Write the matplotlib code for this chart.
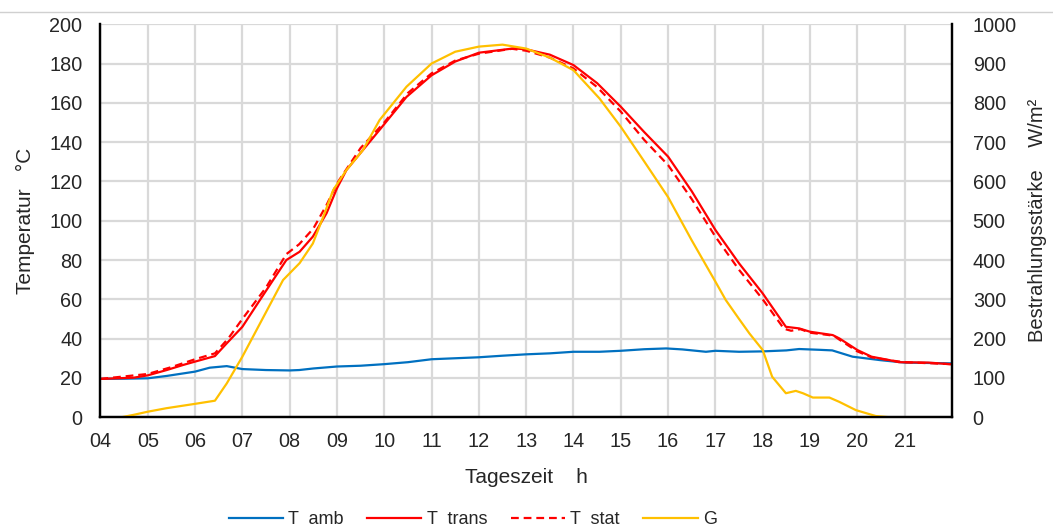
import matplotlib
matplotlib.use("Agg")
import matplotlib.pyplot as plt
from matplotlib.lines import Line2D

plt.rcParams['font.family'] = ['Liberation Sans', 'DejaVu Sans']

# ---- data (hours of day) ----
t_amb_h = [4.0, 4.5, 5.0, 5.4, 6.0, 6.31, 6.67, 7.0, 7.5, 8.0, 8.2, 8.5, 9.0, 9.5, 10.0, 10.5,
           11.0, 11.5, 12.0, 12.5, 13.0, 13.5, 14.0, 14.55, 15.0, 15.5, 15.96, 16.3, 16.8, 17.0,
           17.5, 18.0, 18.5, 18.77, 19.2, 19.47, 19.9, 20.5, 21.0, 21.5, 22.0]
t_amb = [19.5, 19.6, 19.8, 21.0, 23.2, 25.2, 26.0, 24.5, 24.0, 23.8, 24.0, 24.8, 25.8, 26.2, 27.0, 28.0,
         29.5, 30.0, 30.5, 31.3, 32.0, 32.5, 33.3, 33.3, 33.8, 34.6, 35.0, 34.5, 33.3, 33.8,
         33.3, 33.5, 34.0, 34.7, 34.3, 34.0, 30.8, 29.0, 27.8, 27.6, 27.4]

t_trans_h = [4.0, 4.7, 5.0, 5.4, 5.75, 6.0, 6.42, 6.67, 7.0, 7.37, 7.93, 8.21, 8.49, 8.78, 9.0, 9.2,
             9.55, 9.9, 10.47, 11.0, 11.5, 12.0, 12.74, 13.0, 13.5, 14.0, 14.5, 15.0, 15.5, 16.0,
             16.5, 17.0, 17.5, 18.0, 18.49, 18.77, 19.0, 19.48, 19.62, 20.0, 20.3, 20.67, 20.88,
             21.5, 22.0]
t_trans = [19.5, 20.1, 21.3, 24.0, 26.6, 28.3, 31.1, 37.6, 46.0, 59.6, 80.0, 84.2, 91.9, 103.8, 116.5, 125.8,
           136.0, 146.2, 163.0, 174.0, 181.0, 185.5, 187.7, 187.2, 184.5, 179.2, 170.0, 158.0, 145.0, 132.6,
           115.0, 95.3, 78.3, 63.0, 46.0, 45.2, 43.5, 41.8, 40.1, 34.2, 30.8, 29.1, 28.0,
           27.8, 26.9]

t_stat_h = [4.0, 5.0, 5.5, 6.0, 6.42, 6.7, 7.0, 7.5, 7.93, 8.2, 8.5, 8.78, 9.0, 9.5, 10.0, 10.5,
            11.0, 11.5, 12.0, 12.7, 13.0, 13.5, 14.0, 14.5, 15.0, 15.5, 16.0, 16.5, 17.0, 17.5,
            18.0, 18.45, 18.6, 18.8, 19.0, 19.5, 19.62, 20.0, 20.3, 20.67, 21.0, 22.0]
t_stat = [19.5, 22.0, 25.5, 29.5, 32.5, 40.0, 50.0, 66.0, 83.0, 88.0, 96.0, 108.0, 119.0, 137.0, 150.0, 165.0,
          175.0, 181.5, 185.0, 187.5, 186.5, 183.0, 177.5, 168.0, 155.5, 141.0, 128.3, 111.0, 91.9, 75.0,
          60.0, 45.0, 44.0, 44.8, 43.0, 41.5, 39.5, 33.5, 30.5, 29.0, 28.0, 27.0]

g_h = [4.0, 4.45, 4.7, 5.0, 5.4, 6.0, 6.42, 6.67, 7.0, 7.3, 7.6, 7.86, 8.21, 8.49, 8.71, 8.92, 9.2,
       9.55, 9.9, 10.47, 11.0, 11.5, 12.0, 12.5, 13.0, 13.5, 14.0, 14.55, 15.0, 15.5, 16.0,
       16.5, 17.0, 17.22, 17.5, 17.72, 18.0, 18.2, 18.49, 18.7, 18.85, 19.06, 19.41, 19.62,
       19.97, 20.39, 20.67, 22.0]
g = [0, 0, 6, 14, 23, 34, 42, 86, 154, 222, 290, 349, 392, 442, 510, 578, 629,
     680, 756, 841, 900, 930, 943, 948, 938, 915, 883, 811, 739, 650, 560,
     450, 345, 298, 250, 213, 171, 103, 61, 67, 61, 50, 50, 39,
     18, 3, 0, 0]

x_ticks = list(range(4, 22))
x_labels = [f"{h:02d}" for h in x_ticks]
y_ticks = list(range(0, 201, 20))
g_ticks = list(range(0, 1001, 100))

# ---- styling ----
c_blue = "#0070C0"
c_red = "#FF0000"
c_yel = "#FFC000"
grid_c = "#D9D9D9"
tfs = 14.3
lfs = 15
txt_c = '#262626'

fig = plt.figure(figsize=(10.53, 5.31), dpi=100)
ax = fig.add_axes([0.0954, 0.2143, 0.8086, 0.7401])
ax2 = ax.twinx()

l1, = ax.plot(t_amb_h, t_amb, color=c_blue, lw=1.6, label="T  amb")
l2, = ax.plot(t_trans_h, t_trans, color=c_red, lw=1.6, label="T  trans")
l3, = ax.plot(t_stat_h, t_stat, color=c_red, lw=1.6, ls=(0, (3.5, 2.2)), label="T  stat")
l4, = ax2.plot(g_h, g, color=c_yel, lw=1.6, label="G")

ax.set_xlim(4, 22)
ax.set_ylim(0, 200)
ax2.set_ylim(0, 1000)
ax.set_xticks(x_ticks)
ax.set_xticklabels(x_labels)
ax.set_yticks(y_ticks)
ax2.set_yticks(g_ticks)

ax.grid(True, color=grid_c, lw=1.6)
ax.set_axisbelow(True)

for a in (ax, ax2):
    a.spines['top'].set_visible(False)
    for s in a.spines.values():
        s.set_color('black')
        s.set_linewidth(1.6)

ax.tick_params(axis='x', length=0, pad=11, labelsize=tfs, colors=txt_c)
ax.tick_params(axis='y', length=0, pad=13, labelsize=tfs, colors=txt_c)
ax2.tick_params(axis='y', length=0, pad=15, labelsize=tfs, colors=txt_c)

ax.set_xlabel("Tageszeit    h", fontsize=lfs, labelpad=12, color=txt_c)
ax.set_ylabel("Temperatur   °C", fontsize=lfs, labelpad=10, color=txt_c)
ax2.set_ylabel("Bestrahlungsstärke    W/m²", fontsize=14.5, labelpad=8, color=txt_c)

fig.legend(handles=[l1, l2, l3, l4], loc='center', bbox_to_anchor=(0.449, 1 - 520 / 531),
           ncol=4, frameon=False, fontsize=13, handlelength=3.0, handletextpad=0.3,
           columnspacing=1.3, labelcolor=txt_c)

fig.add_artist(Line2D([0, 1], [1 - 12 / 531, 1 - 12 / 531], transform=fig.transFigure,
                      color='#D0D0D0', lw=1.0))

fig.savefig("out.png", dpi=100)
